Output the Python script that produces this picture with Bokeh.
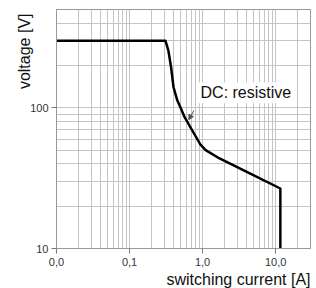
import math
from bokeh.plotting import figure
from bokeh.models import FixedTicker, Label, Arrow, NormalHead, Range1d, Title
from bokeh.embed import file_html
from bokeh.resources import INLINE

# data
current = [0.01, 0.31, 0.34, 0.37, 0.40, 0.45, 0.50, 0.56, 0.70, 0.93, 1.1, 1.6, 4.5, 11.6, 11.6]
voltage = [300, 300, 255, 195, 140, 113, 100, 87, 71, 55, 50, 44.5, 34, 26.7, 10]

x_ticks = [0.01, 0.1, 1, 10]
x_tick_labels = ["0,0", "0,1", "1,0", "10,0"]
y_ticks = [10, 100]
y_tick_labels = ["10", "100"]

x_minor = [m * d for d in [0.01, 0.1, 1, 10] for m in range(2, 10)]
y_minor = [m * d for d in [10, 100] for m in range(2, 10)]

FONT = "Liberation Sans"
GRID = "#c4c4c4"

p = figure(width=316, height=288, x_axis_type="log", y_axis_type="log",
           x_range=Range1d(0.01, 30), y_range=Range1d(10, 500),
           output_backend="svg", toolbar_location=None,
           min_border_left=56, min_border_right=6, min_border_top=9, min_border_bottom=40)

p.xaxis.ticker = FixedTicker(ticks=x_ticks, minor_ticks=x_minor)
p.yaxis.ticker = FixedTicker(ticks=y_ticks, minor_ticks=y_minor)
p.xaxis.major_label_overrides = dict(zip(x_ticks, x_tick_labels))
p.yaxis.major_label_overrides = dict(zip(y_ticks, y_tick_labels))

for ax in (p.xaxis, p.yaxis):
    ax.axis_line_color = "#999999"
    ax.major_tick_line_color = "#777777"
    ax.major_tick_in = 0
    ax.major_tick_out = 5
    ax.minor_tick_line_color = None
    ax.major_label_text_font = FONT
    ax.major_label_text_font_size = "11px"
    ax.major_label_text_color = "#333333"
p.xaxis.major_label_standoff = 4
p.yaxis.major_label_standoff = 3

for g in (p.xgrid, p.ygrid):
    g.grid_line_color = GRID
    g.minor_grid_line_color = GRID
    g.grid_line_width = 1
    g.minor_grid_line_width = 1

p.outline_line_color = "#999999"
p.background_fill_color = "white"
p.border_fill_color = "white"

p.line(current, voltage, line_color="black", line_width=2.5, line_join="round")

p.add_layout(Label(x=0.88, y=128, text="DC: resistive", text_font=FONT,
                   text_font_size="16px", text_color="#111111",
                   text_align="left", text_baseline="middle",
                   background_fill_color="white", padding=2))
p.add_layout(Arrow(x_start=0.76, y_start=95.7, x_end=0.647, y_end=82.2,
                   line_color="#555555", line_width=1,
                   end=NormalHead(size=5, fill_color="#555555", line_color="#555555")))

p.add_layout(Title(text="voltage [V]", align="right", standoff=-10, offset=4,
                   text_font=FONT, text_font_size="16px", text_font_style="normal",
                   text_color="#111111"), "left")
p.add_layout(Title(text="switching current [A]", align="right", standoff=0,
                   text_font=FONT, text_font_size="16px", text_font_style="normal",
                   text_color="#111111"), "below")

open("out.html", "w").write(file_html(p, INLINE))
